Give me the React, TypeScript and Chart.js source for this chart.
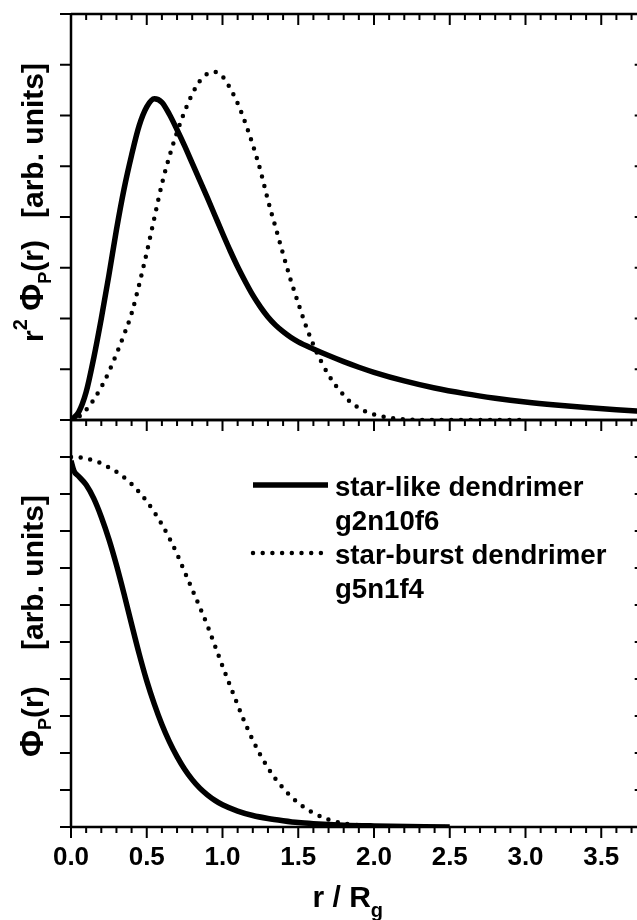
import { useEffect, useRef } from "react";
import { Chart, registerables } from "chart.js";

Chart.register(...registerables);

// ---------- data ----------
const X_MIN = 0;
const X_MAX = 3.8;
const X_MAJOR_TICKS = [0, 0.5, 1.0, 1.5, 2.0, 2.5, 3.0, 3.5];
const X_TICK_LABELS = ["0.0", "0.5", "1.0", "1.5", "2.0", "2.5", "3.0", "3.5"];
const X_MINOR_STEP = 0.1;

const TOP_Y_MIN = 0;
const TOP_Y_MAX = 8;
const TOP_Y_TICKS = [0, 1, 2, 3, 4, 5, 6, 7, 8];
const BOTTOM_Y_MIN = 0;
const BOTTOM_Y_MAX = 1.1;
const BOTTOM_Y_TICKS = [0, 0.1, 0.2, 0.3, 0.4, 0.5, 0.6, 0.7, 0.8, 0.9, 1.0, 1.1];

// r^2 Phi_P(r), star-like dendrimer g2n10f6 (solid)
const TOP_SOLID_R = [0, 0.05, 0.1, 0.15, 0.2, 0.25, 0.3, 0.35, 0.4, 0.45, 0.5, 0.55, 0.6, 0.65, 0.7, 0.75, 0.8, 0.85, 0.9, 0.95, 1.0, 1.05, 1.1, 1.15, 1.2, 1.25, 1.3, 1.35, 1.4, 1.45, 1.5, 1.6, 1.7, 1.8, 1.9, 2.0, 2.2, 2.4, 2.6, 2.8, 3.0, 3.2, 3.4, 3.6, 3.8];
const TOP_SOLID_V = [0, 0.15, 0.55, 1.22, 2.0, 2.85, 3.75, 4.55, 5.22, 5.8, 6.17, 6.33, 6.26, 6.02, 5.72, 5.4, 5.06, 4.72, 4.38, 4.03, 3.68, 3.34, 3.02, 2.73, 2.46, 2.23, 2.03, 1.87, 1.74, 1.63, 1.54, 1.4, 1.27, 1.15, 1.04, 0.94, 0.77, 0.63, 0.52, 0.43, 0.355, 0.295, 0.245, 0.2, 0.165];

// r^2 Phi_P(r), star-burst dendrimer g5n1f4 (dotted)
const TOP_DOTTED_R = [0, 0.05, 0.1, 0.15, 0.2, 0.25, 0.3, 0.35, 0.4, 0.45, 0.5, 0.55, 0.6, 0.65, 0.7, 0.75, 0.8, 0.85, 0.9, 0.95, 1.0, 1.05, 1.1, 1.15, 1.2, 1.25, 1.3, 1.35, 1.4, 1.45, 1.5, 1.55, 1.6, 1.65, 1.7, 1.75, 1.8, 1.85, 1.9, 1.95, 2.0, 2.1, 2.2, 2.4, 3.0];
const TOP_DOTTED_V = [0, 0.06, 0.2, 0.4, 0.65, 0.95, 1.3, 1.68, 2.1, 2.67, 3.3, 3.98, 4.65, 5.2, 5.67, 6.08, 6.42, 6.68, 6.82, 6.86, 6.77, 6.54, 6.24, 5.86, 5.42, 4.92, 4.33, 3.8, 3.27, 2.76, 2.3, 1.86, 1.48, 1.16, 0.89, 0.67, 0.49, 0.34, 0.24, 0.16, 0.11, 0.045, 0.012, 0, 0];

// Phi_P(r), star-like dendrimer (solid)
const BOTTOM_SOLID_R = [0, 0.02, 0.05, 0.1, 0.15, 0.2, 0.25, 0.3, 0.35, 0.4, 0.45, 0.5, 0.55, 0.6, 0.65, 0.7, 0.75, 0.8, 0.85, 0.9, 0.95, 1.0, 1.1, 1.2, 1.3, 1.4, 1.5, 1.6, 1.8, 2.0, 2.5];
const BOTTOM_SOLID_V = [0.99, 0.962, 0.948, 0.925, 0.888, 0.838, 0.778, 0.708, 0.63, 0.548, 0.468, 0.395, 0.332, 0.277, 0.23, 0.19, 0.156, 0.128, 0.105, 0.087, 0.072, 0.06, 0.043, 0.031, 0.023, 0.017, 0.012, 0.009, 0.005, 0.003, 0];

// Phi_P(r), star-burst dendrimer (dotted)
const BOTTOM_DOTTED_R = [0, 0.05, 0.1, 0.15, 0.2, 0.25, 0.3, 0.35, 0.4, 0.45, 0.5, 0.55, 0.6, 0.65, 0.7, 0.75, 0.8, 0.85, 0.9, 0.95, 1.0, 1.05, 1.1, 1.15, 1.2, 1.25, 1.3, 1.35, 1.4, 1.45, 1.5, 1.55, 1.6, 1.7, 1.8, 1.9, 2.0, 2.2, 2.5];
const BOTTOM_DOTTED_V = [1.0, 0.999, 0.996, 0.99, 0.983, 0.972, 0.96, 0.945, 0.927, 0.905, 0.88, 0.851, 0.818, 0.78, 0.738, 0.69, 0.642, 0.594, 0.545, 0.49, 0.435, 0.382, 0.33, 0.28, 0.235, 0.195, 0.16, 0.13, 0.105, 0.083, 0.065, 0.05, 0.038, 0.02, 0.01, 0.005, 0.002, 0, 0];

const LEGEND_LABELS = [
  ["star-like dendrimer", "g2n10f6"],
  ["star-burst dendrimer", "g5n1f4"],
];

// ---------- styling ----------
const FONT = '"Liberation Sans", Arial, Helvetica, sans-serif';
const W = 660;
const H = 920;
const PLOT_LEFT = 71;
const PLOT_RIGHT_PAD = 13.3;
const TOP_PANEL = { top: 14, bottom: 420 };
const BOTTOM_PANEL = { top: 420, bottom: 827 };

const solidStyle = {
  borderColor: "#000",
  borderWidth: 5.5,
  borderJoinStyle: "round" as const,
  borderCapStyle: "butt" as const,
};
const dottedStyle = {
  borderColor: "#000",
  borderWidth: 4.5,
  borderDash: [0, 9.7],
  borderCapStyle: "round" as const,
};

function pts(r: number[], v: number[]) {
  return r.map((x, i) => ({ x, y: v[i] }));
}

function f(size: number) {
  return `bold ${size}px ${FONT}`;
}

type Piece = { t: string; size: number; dy?: number };

function drawRotated(ctx: CanvasRenderingContext2D, x: number, y: number, pieces: Piece[]) {
  ctx.save();
  ctx.translate(x, y);
  ctx.rotate(-Math.PI / 2);
  ctx.textAlign = "left";
  ctx.textBaseline = "alphabetic";
  let cx = 0;
  for (const p of pieces) {
    ctx.font = f(p.size);
    ctx.fillText(p.t, cx, p.dy || 0);
    cx += ctx.measureText(p.t).width;
  }
  ctx.restore();
}

function drawPieces(ctx: CanvasRenderingContext2D, x: number, y: number, pieces: Piece[]) {
  ctx.save();
  ctx.textAlign = "left";
  ctx.textBaseline = "alphabetic";
  let cx = x;
  for (const p of pieces) {
    ctx.font = f(p.size);
    ctx.fillText(p.t, cx, y + (p.dy || 0));
    cx += ctx.measureText(p.t).width;
  }
  ctx.restore();
}

function minorTicks(): number[] {
  const out: number[] = [];
  for (let i = 1; i * X_MINOR_STEP < X_MAX - 1e-9; i++) {
    const v = Math.round(i * X_MINOR_STEP * 10) / 10;
    if (!X_MAJOR_TICKS.some((m) => Math.abs(m - v) < 1e-9)) out.push(v);
  }
  return out;
}

function makeFramePlugin(panel: "top" | "bottom") {
  return {
    id: "frame_" + panel,
    afterDatasetsDraw(chart: any) {
      const ctx: CanvasRenderingContext2D = chart.ctx;
      const { left, right, top, bottom } = chart.chartArea;
      const xs = chart.scales.x;
      const ys = chart.scales.y;
      const yTicks = panel === "top" ? TOP_Y_TICKS : BOTTOM_Y_TICKS;
      ctx.save();
      ctx.strokeStyle = "#000";
      ctx.fillStyle = "#000";
      ctx.lineCap = "butt";

      // frame
      ctx.lineWidth = 2.5;
      ctx.beginPath();
      ctx.moveTo(left, top - 1);
      ctx.lineTo(left, bottom + 1);
      ctx.moveTo(right, top);
      ctx.lineTo(right, bottom);
      ctx.moveTo(left, top);
      ctx.lineTo(right, top);
      ctx.moveTo(left, bottom);
      ctx.lineTo(right, bottom);
      ctx.stroke();

      // y ticks (left outward, right inward)
      ctx.lineWidth = 2;
      ctx.beginPath();
      for (const v of yTicks) {
        const py = ys.getPixelForValue(v);
        ctx.moveTo(left - 11, py);
        ctx.lineTo(left, py);
        ctx.moveTo(right - 12, py);
        ctx.lineTo(right, py);
      }
      ctx.stroke();

      // x ticks on top edge (inward)
      const minors = minorTicks();
      ctx.beginPath();
      for (const v of X_MAJOR_TICKS) {
        const px = xs.getPixelForValue(v);
        ctx.moveTo(px, top);
        ctx.lineTo(px, top + 11);
      }
      for (const v of minors) {
        const px = xs.getPixelForValue(v);
        ctx.moveTo(px, top);
        ctx.lineTo(px, top + 6);
      }
      ctx.stroke();

      if (panel === "bottom") {
        // x ticks on bottom edge (outward)
        ctx.beginPath();
        for (const v of X_MAJOR_TICKS) {
          const px = xs.getPixelForValue(v);
          ctx.moveTo(px, bottom);
          ctx.lineTo(px, bottom + 11);
        }
        for (const v of minors) {
          const px = xs.getPixelForValue(v);
          ctx.moveTo(px, bottom);
          ctx.lineTo(px, bottom + 6);
        }
        ctx.stroke();

        // tick labels
        ctx.font = f(26);
        ctx.textAlign = "center";
        ctx.textBaseline = "alphabetic";
        X_MAJOR_TICKS.forEach((v, i) => {
          ctx.fillText(X_TICK_LABELS[i], xs.getPixelForValue(v), bottom + 38);
        });

        // x title
        drawPieces(ctx, 312.5, 907, [
          { t: "r / R", size: 30 },
          { t: "g", size: 20, dy: 10 },
        ]);

        // y title bottom
        drawRotated(ctx, 43, 757, [
          { t: "\u03A6", size: 33 },
          { t: "P", size: 18, dy: 8 },
          { t: "(r)", size: 30 },
        ]);
        drawRotated(ctx, 43, 650, [{ t: "[arb. units]", size: 30 }]);

        // legend
        const ds = chart.data.datasets;
        const rows = [
          { lineY: 485, base: [496, 530] },
          { lineY: 553, base: [564, 598] },
        ];
        rows.forEach((row, i) => {
          const d = ds[i];
          ctx.save();
          ctx.lineWidth = d.borderWidth;
          ctx.setLineDash(d.borderDash || []);
          ctx.lineCap = d.borderCapStyle || "butt";
          ctx.beginPath();
          ctx.moveTo(253, row.lineY);
          ctx.lineTo(328, row.lineY);
          ctx.stroke();
          ctx.restore();
          ctx.font = f(27.6);
          ctx.textAlign = "left";
          ctx.fillText(LEGEND_LABELS[i][0], 335, row.base[0]);
          ctx.fillText(LEGEND_LABELS[i][1], 335, row.base[1]);
        });
      } else {
        // y title top
        drawRotated(ctx, 43, 342, [
          { t: "r", size: 30 },
          { t: "2", size: 20, dy: -16 },
          { t: " ", size: 30 },
          { t: "\u03A6", size: 33 },
          { t: "P", size: 18, dy: 8 },
          { t: "(r)", size: 30 },
        ]);
        drawRotated(ctx, 43, 218, [{ t: "[arb. units]", size: 30 }]);
      }
      ctx.restore();
    },
  };
}

function makeConfig(panel: "top" | "bottom"): any {
  const isTop = panel === "top";
  const p = isTop ? TOP_PANEL : BOTTOM_PANEL;
  const datasets = isTop
    ? [
        { label: LEGEND_LABELS[0].join(" "), data: pts(TOP_SOLID_R, TOP_SOLID_V), ...solidStyle },
        { label: LEGEND_LABELS[1].join(" "), data: pts(TOP_DOTTED_R, TOP_DOTTED_V), ...dottedStyle },
      ]
    : [
        { label: LEGEND_LABELS[0].join(" "), data: pts(BOTTOM_SOLID_R, BOTTOM_SOLID_V), ...solidStyle },
        { label: LEGEND_LABELS[1].join(" "), data: pts(BOTTOM_DOTTED_R, BOTTOM_DOTTED_V), ...dottedStyle },
      ];
  return {
    type: "scatter",
    data: {
      datasets: datasets.map((d) => ({
        ...d,
        showLine: true,
        fill: false,
        pointRadius: 0,
        pointHoverRadius: 0,
        cubicInterpolationMode: "monotone",
      })),
    },
    options: {
      animation: false,
      responsive: false,
      events: [],
      layout: {
        padding: { left: PLOT_LEFT, right: PLOT_RIGHT_PAD, top: p.top, bottom: H - p.bottom },
      },
      plugins: { legend: { display: false }, tooltip: { enabled: false }, title: { display: false } },
      scales: {
        x: { type: "linear", min: X_MIN, max: X_MAX, display: false },
        y: {
          type: "linear",
          min: isTop ? TOP_Y_MIN : BOTTOM_Y_MIN,
          max: isTop ? TOP_Y_MAX : BOTTOM_Y_MAX,
          display: false,
        },
      },
    },
    plugins: [makeFramePlugin(panel)],
  };
}

export default function App() {
  const topRef = useRef<HTMLCanvasElement>(null);
  const botRef = useRef<HTMLCanvasElement>(null);

  useEffect(() => {
    const c1 = new Chart(topRef.current as HTMLCanvasElement, makeConfig("top"));
    const c2 = new Chart(botRef.current as HTMLCanvasElement, makeConfig("bottom"));
    return () => {
      c1.destroy();
      c2.destroy();
    };
  }, []);

  const canvasStyle: React.CSSProperties = {
    position: "absolute",
    left: 0,
    top: 0,
    width: W,
    height: H,
    display: "block",
  };

  return (
    <div
      style={{
        position: "absolute",
        left: 0,
        top: 0,
        width: 637,
        height: 920,
        overflow: "hidden",
        background: "#fff",
      }}
    >
      <canvas ref={topRef} width={W} height={H} style={canvasStyle} />
      <canvas ref={botRef} width={W} height={H} style={canvasStyle} />
    </div>
  );
}
